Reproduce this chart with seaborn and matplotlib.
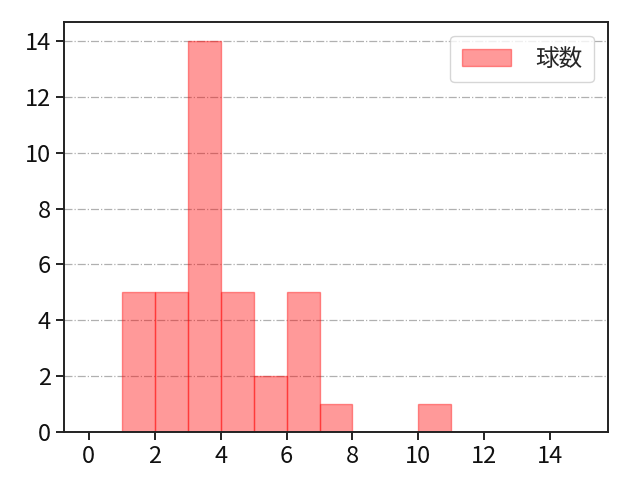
import numpy as np
import matplotlib
matplotlib.use('Agg')
import matplotlib.pyplot as plt
import seaborn as sns

# bin edges and counts
bin_left = [1, 2, 3, 4, 5, 6, 7, 8, 9, 10]
counts = [5, 5, 14, 5, 2, 5, 1, 0, 0, 1]
bin_edges = list(range(0, 16))
x_ticks = [0, 2, 4, 6, 8, 10, 12, 14]
y_ticks = [0, 2, 4, 6, 8, 10, 12, 14]

sns.set_style('ticks')
plt.rcParams['font.family'] = ['Noto Sans CJK JP', 'DejaVu Sans']

fig, ax = plt.subplots(figsize=(6.4, 4.8), dpi=100)
sns.histplot(x=bin_left, weights=counts, bins=bin_edges, color='red',
             alpha=0.4, edgecolor=(1, 0, 0, 0.4), linewidth=1, label='球数', ax=ax)

ax.set_xlim(-0.75, 15.75)
ax.set_ylim(0, 14.7)
ax.set_xticks(x_ticks)
ax.set_yticks(y_ticks)
ax.set_xlabel('')
ax.set_ylabel('')
ax.tick_params(labelsize=17, length=6, width=1.4, color='#222222', labelcolor='#111111')
for s in ax.spines.values():
    s.set_linewidth(1.4)
    s.set_color('#222222')
    s.set_visible(True)
ax.grid(axis='y', linestyle='-.', color='#b0b0b0', linewidth=0.9)
ax.legend(loc='upper right', fontsize=17, handlelength=2.1, handletextpad=1.0,
          borderpad=0.5, borderaxespad=0.6)

fig.subplots_adjust(left=0.1, right=0.95, top=0.955, bottom=0.1)
fig.savefig('out.png', dpi=100)
